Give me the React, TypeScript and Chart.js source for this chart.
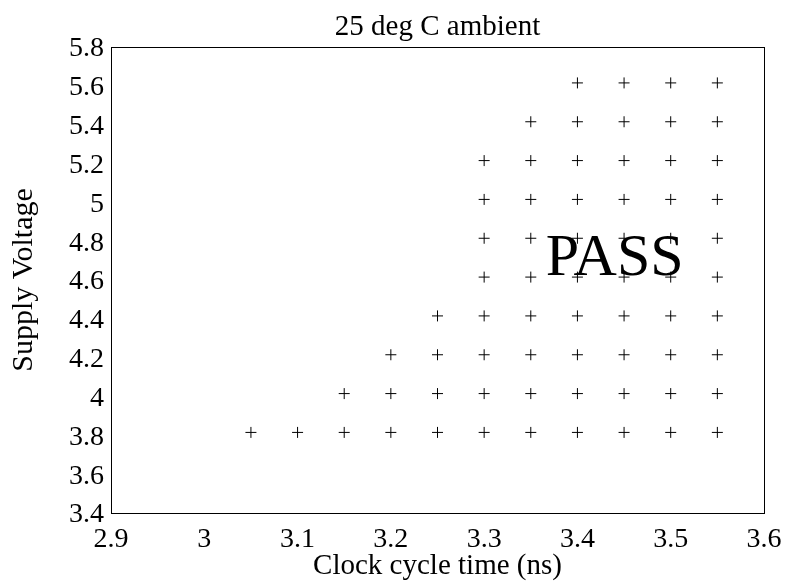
import React, { useEffect, useRef } from 'react';
import { Chart, registerables } from 'chart.js';

Chart.register(...registerables);

const chartTitle = '25 deg C ambient';
const xAxisTitle = 'Clock cycle time (ns)';
const yAxisTitle = 'Supply Voltage';
const passLabel = 'PASS';

const xTicks = [2.9, 3.0, 3.1, 3.2, 3.3, 3.4, 3.5, 3.6];
const yTicks = [3.4, 3.6, 3.8, 4.0, 4.2, 4.4, 4.6, 4.8, 5.0, 5.2, 5.4, 5.6, 5.8];

// clock cycle times tested (ns)
const clockTimes = [3.05, 3.1, 3.15, 3.2, 3.25, 3.3, 3.35, 3.4, 3.45, 3.5, 3.55];
// supply voltage rows (V)
const supplyVoltages = [3.815, 4.015, 4.215, 4.415, 4.615, 4.815, 5.015, 5.215, 5.415, 5.615];
// fastest passing clock time for each voltage row
const fastestPassingClock = [3.05, 3.15, 3.2, 3.25, 3.3, 3.3, 3.3, 3.3, 3.35, 3.4];

// PASS label anchor in data coordinates
const passLabelX = [3.366];
const passLabelY = [4.625];

const FONT = "'Liberation Serif', 'Times New Roman', serif";

export default function App() {
  const ref = useRef<HTMLCanvasElement | null>(null);

  useEffect(() => {
    if (!ref.current) return;
    const points: { x: number; y: number }[] = [];
    supplyVoltages.forEach((v, i) => {
      clockTimes.forEach((c) => {
        if (c >= fastestPassingClock[i] - 1e-9) points.push({ x: c, y: v });
      });
    });

    const framePlugin = {
      id: 'frameAndLabels',
      afterDraw(chart: any) {
        const { ctx, chartArea, scales } = chart;
        ctx.save();
        ctx.strokeStyle = '#000';
        ctx.lineWidth = 1;
        ctx.strokeRect(
          Math.round(chartArea.left) + 0.5,
          Math.round(chartArea.top) + 0.5,
          Math.round(chartArea.right - chartArea.left),
          Math.round(chartArea.bottom - chartArea.top)
        );
        // title centred over plot area
        ctx.fillStyle = '#000';
        ctx.font = `29px ${FONT}`;
        ctx.textAlign = 'center';
        ctx.textBaseline = 'middle';
        ctx.fillText(chartTitle, (chartArea.left + chartArea.right) / 2, 27);
        // PASS label
        ctx.font = `60px ${FONT}`;
        ctx.textAlign = 'left';
        ctx.textBaseline = 'alphabetic';
        ctx.fillText(
          passLabel,
          scales.x.getPixelForValue(passLabelX[0]),
          scales.y.getPixelForValue(passLabelY[0])
        );
        ctx.restore();
      },
    };

    const chart = new Chart(ref.current, {
      type: 'scatter',
      data: {
        datasets: [
          {
            data: points,
            pointStyle: 'cross',
            pointRadius: 5.5,
            pointBorderWidth: 1,
            borderColor: '#000',
            backgroundColor: '#000',
            pointHoverRadius: 5.5,
          },
        ],
      },
      options: {
        animation: false,
        responsive: false,
        layout: { padding: { top: 47, right: 21, left: 0, bottom: 0 } },
        plugins: {
          legend: { display: false },
          title: { display: false },
          tooltip: { enabled: false },
        },
        scales: {
          x: {
            type: 'linear',
            min: 2.9,
            max: 3.6,
            grid: { display: false, drawTicks: false },
            border: { display: false },
            afterBuildTicks: (scale: any) => {
              scale.ticks = xTicks.map((v) => ({ value: v }));
            },
            afterFit: (scale: any) => {
              scale.height = 68;
              scale.paddingLeft = 0;
              scale.paddingRight = 0;
            },
            ticks: {
              color: '#000',
              padding: 10,
              maxRotation: 0,
              autoSkip: false,
              font: { family: FONT, size: 28 },
              callback: (v: any) => String(Number(Number(v).toFixed(1))),
            },
            title: {
              display: true,
              text: xAxisTitle,
              color: '#000',
              font: { family: FONT, size: 29, lineHeight: 1 },
              padding: { top: 0, bottom: 0 },
            },
          },
          y: {
            type: 'linear',
            min: 3.4,
            max: 5.8,
            grid: { display: false, drawTicks: false },
            border: { display: false },
            afterBuildTicks: (scale: any) => {
              scale.ticks = yTicks.map((v) => ({ value: v }));
            },
            afterFit: (scale: any) => {
              scale.width = 111;
              scale.paddingTop = 0;
              scale.paddingBottom = 0;
            },
            ticks: {
              color: '#000',
              padding: 7,
              autoSkip: false,
              labelOffset: 2,
              font: { family: FONT, size: 28 },
              callback: (v: any) => String(Number(Number(v).toFixed(1))),
            },
            title: {
              display: true,
              text: yAxisTitle,
              color: '#000',
              font: { family: FONT, size: 30, lineHeight: 1.2 },
              padding: { top: 6, bottom: 0 },
            },
          },
        },
      },
      plugins: [framePlugin],
    });
    return () => chart.destroy();
  }, []);

  return (
    <div style={{ position: 'fixed', left: 0, top: 0, width: 785, height: 581, background: '#fff' }}>
      <canvas ref={ref} width={785} height={581} />
    </div>
  );
}
